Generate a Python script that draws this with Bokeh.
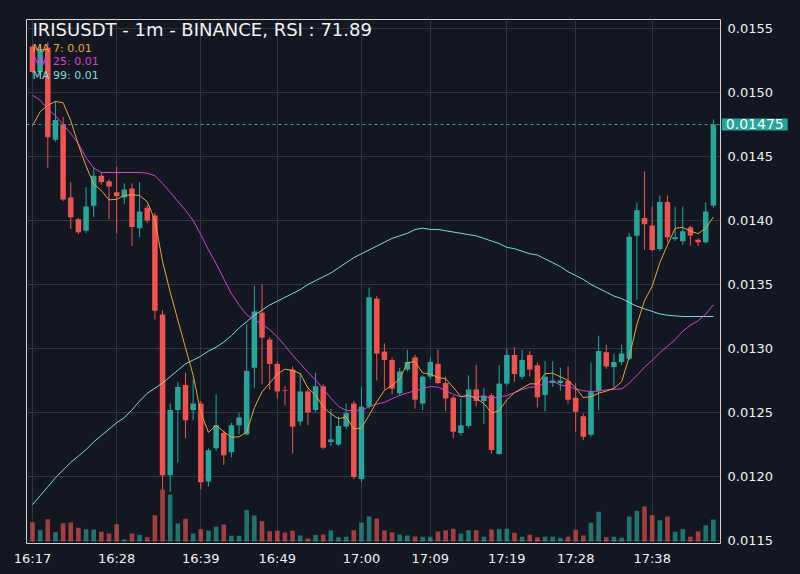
from bokeh.plotting import figure
from bokeh.models import (Range1d, FixedTicker, Span, Label, ColumnDataSource,
                          PrintfTickFormatter)
from bokeh.embed import file_html
from bokeh.resources import INLINE

# ---------------- data ----------------
title_text = "IRISUSDT - 1m - BINANCE, RSI : 71.89"
tick_positions = [0, 11, 22, 32, 43, 52, 62, 71, 81]
tick_labels = ["16:17", "16:28", "16:39", "16:49", "17:00", "17:09", "17:19", "17:28", "17:38"]
price_ticks = [0.0115, 0.0120, 0.0125, 0.0130, 0.0135, 0.0140, 0.0145, 0.0150, 0.0155]
last_price = 0.01475

opens = [0.01536, 0.01516, 0.01535, 0.01463, 0.01475, 0.01418, 0.01401, 0.01392, 0.014115, 0.01435,
         0.014306, 0.01422, 0.01418, 0.01425, 0.01394, 0.0141, 0.01404, 0.013266, 0.01201, 0.01252,
         0.012715, 0.01252, 0.01257, 0.01196, 0.01222, 0.01234, 0.01219, 0.0124, 0.01233, 0.01285,
         0.01328, 0.01307, 0.01288, 0.012675, 0.012835, 0.01243, 0.012665, 0.01252, 0.012705, 0.01227,
         0.01225, 0.01239, 0.01257, 0.01198, 0.012546, 0.01339, 0.012976, 0.01291, 0.01265, 0.012835,
         0.01293, 0.01257, 0.01278, 0.01288, 0.01273, 0.012615, 0.01234, 0.012395, 0.01268, 0.01259,
         0.012634, 0.012176, 0.012726, 0.01295, 0.01278, 0.01295, 0.01287, 0.012637, 0.01273, 0.01273,
         0.012746, 0.012615, 0.01247, 0.012326, 0.01267, 0.01297, 0.012855, 0.012895, 0.01292, 0.01388,
         0.01402, 0.01396, 0.013777, 0.014144, 0.013855, 0.013837, 0.013948, 0.01385, 0.01383, 0.014118]
highs = [0.01537, 0.01537, 0.01539, 0.01493, 0.01481, 0.0143, 0.01402, 0.01426, 0.01442, 0.01438,
         0.01432, 0.01442, 0.01429, 0.01429, 0.0143, 0.01412, 0.01406, 0.0133, 0.01257, 0.01274,
         0.01281, 0.01276, 0.01259, 0.01222, 0.01264, 0.01236, 0.01242, 0.0125, 0.01319, 0.01349,
         0.0135, 0.01309, 0.0129, 0.01271, 0.01286, 0.01281, 0.01268, 0.01281, 0.01272, 0.01253,
         0.01247, 0.01257, 0.01259, 0.0127, 0.013476, 0.01341, 0.01304, 0.01293, 0.01285, 0.01299,
         0.01295, 0.01279, 0.01293, 0.01299, 0.01278, 0.01263, 0.01261, 0.01279, 0.01287, 0.01269,
         0.01265, 0.01287, 0.013, 0.01301, 0.01299, 0.01298, 0.01289, 0.0129, 0.0129, 0.01285,
         0.01286, 0.01273, 0.01249, 0.01289, 0.0131, 0.01303, 0.01296, 0.01303, 0.0139, 0.01414,
         0.014385, 0.01411, 0.014196, 0.014196, 0.01411, 0.01411, 0.01396, 0.01386, 0.014143, 0.01479]
lows = [0.01515, 0.01513, 0.01441, 0.014615, 0.01415, 0.013934, 0.013895, 0.0139, 0.014026, 0.01428,
        0.01401, 0.0139, 0.01413, 0.0138, 0.01387, 0.01398, 0.013227, 0.0119, 0.01188, 0.01211,
        0.0123, 0.01244, 0.0119, 0.01192, 0.0122, 0.01209, 0.01215, 0.01233, 0.01232, 0.01269,
        0.01272, 0.01268, 0.01261, 0.012555, 0.01218, 0.012396, 0.0124, 0.0125, 0.01221, 0.01224,
        0.01224, 0.01237, 0.01198, 0.011956, 0.01253, 0.01275, 0.01268, 0.01264, 0.01263, 0.01282,
        0.01253, 0.01252, 0.01276, 0.01272, 0.01251, 0.0123, 0.01232, 0.01238, 0.012547, 0.01241,
        0.01218, 0.01217, 0.01271, 0.01274, 0.01276, 0.01278, 0.01254, 0.01251, 0.0127, 0.01267,
        0.01257, 0.01235, 0.012285, 0.01231, 0.01252, 0.01284, 0.0127, 0.01287, 0.01291, 0.01338,
        0.01377, 0.01376, 0.01376, 0.01383, 0.01384, 0.01381, 0.013804, 0.0138, 0.01382, 0.0141]
closes = [0.01516, 0.01534, 0.01465, 0.014785, 0.014165, 0.014026, 0.013908, 0.01411, 0.01435, 0.0143,
          0.014266, 0.01419, 0.014243, 0.01395, 0.01407, 0.014, 0.013295, 0.01201, 0.01252, 0.0127,
          0.01244, 0.01257, 0.011956, 0.012206, 0.0124, 0.012167, 0.0124, 0.01246, 0.012825, 0.01329,
          0.013085, 0.01288, 0.012665, 0.01267, 0.01239, 0.012665, 0.0125, 0.012705, 0.012225, 0.01229,
          0.012395, 0.012495, 0.011996, 0.012546, 0.0134, 0.01296, 0.01291, 0.012686, 0.01282, 0.012895,
          0.0126, 0.01278, 0.012895, 0.01273, 0.01261, 0.01235, 0.0124, 0.01268, 0.01259, 0.01263,
          0.012207, 0.012726, 0.01295, 0.0128, 0.01291, 0.012835, 0.01262, 0.01278, 0.01275, 0.01275,
          0.0126, 0.012505, 0.01231, 0.012665, 0.01298, 0.01286, 0.012895, 0.01296, 0.013874, 0.01408,
          0.01397, 0.01377, 0.014144, 0.01387, 0.01387, 0.013916, 0.013883, 0.01383, 0.01407, 0.01475]
volumes = [193, 113, 223, 93, 183, 190, 137, 123, 120, 97,
           80, 173, 20, 80, 67, 43, 263, 520, 470, 180,
           227, 80, 123, 110, 147, 170, 57, 57, 313, 260,
           203, 103, 107, 90, 107, 60, 30, 67, 70, 110,
           43, 47, 113, 190, 250, 230, 110, 93, 70, 60,
           50, 47, 47, 100, 113, 127, 80, 113, 113, 47,
           120, 123, 127, 87, 47, 67, 43, 47, 47, 37,
           47, 117, 60, 187, 297, 43, 47, 40, 250, 307,
           350, 263, 213, 250, 97, 123, 47, 100, 163, 220]
ma7 = [0.01474, 0.01485, 0.0149, 0.01493, 0.01492, 0.01478, 0.01459, 0.014426, 0.014284, 0.014234,
       0.014161, 0.014166, 0.014196, 0.014201, 0.014196, 0.014146, 0.014003, 0.01368, 0.013441, 0.013221,
       0.013006, 0.012791, 0.0125, 0.012344, 0.0124, 0.01235, 0.012307, 0.01231, 0.012347, 0.012537,
       0.012661, 0.01273, 0.0128, 0.012839, 0.012829, 0.012804, 0.012691, 0.012637, 0.012543, 0.01249,
       0.012451, 0.012466, 0.012371, 0.012379, 0.012479, 0.012584, 0.012673, 0.012714, 0.012761, 0.01289,
       0.012897, 0.012809, 0.0128, 0.012774, 0.012763, 0.012696, 0.012624, 0.012636, 0.012609, 0.01257,
       0.012496, 0.012513, 0.012599, 0.012656, 0.012689, 0.012724, 0.012723, 0.012804, 0.012807, 0.012779,
       0.01275, 0.012693, 0.012617, 0.012623, 0.012651, 0.012667, 0.012689, 0.01274, 0.012934, 0.013187,
       0.013374, 0.013487, 0.01367, 0.013809, 0.013939, 0.013946, 0.013917, 0.013897, 0.01394, 0.014027]
ma25 = [0.01498, 0.01494, 0.01487, 0.01482, 0.01475, 0.01468, 0.0146, 0.01449, 0.01441, 0.014375,
        0.014375, 0.014375, 0.014375, 0.014375, 0.014375, 0.01437, 0.01435, 0.01429, 0.01422, 0.01415,
        0.01408, 0.014, 0.01389, 0.01377, 0.013665, 0.013545, 0.013428, 0.01334, 0.013262, 0.013227,
        0.013189, 0.013148, 0.01309, 0.013023, 0.012946, 0.012882, 0.012814, 0.012753, 0.012684, 0.012612,
        0.012548, 0.012516, 0.012516, 0.012517, 0.012545, 0.012566, 0.012579, 0.012608, 0.012633, 0.012653,
        0.01267, 0.012685, 0.012703, 0.012699, 0.012672, 0.012642, 0.012623, 0.012624, 0.012621, 0.01263,
        0.012612, 0.012622, 0.012632, 0.012655, 0.01268, 0.012697, 0.012702, 0.012734, 0.012742, 0.012716,
        0.012701, 0.012685, 0.01267, 0.012664, 0.012667, 0.012677, 0.012682, 0.012684, 0.01273, 0.012789,
        0.012854, 0.012908, 0.012967, 0.013018, 0.013068, 0.013136, 0.013182, 0.013217, 0.013268, 0.013342]
ma99 = [0.01178, 0.01185, 0.01192, 0.01199, 0.01205, 0.01211, 0.01216, 0.01221, 0.01227, 0.01232,
        0.01237, 0.01242, 0.01246, 0.01252, 0.01259, 0.01265, 0.01269, 0.01273, 0.01278, 0.01283,
        0.01288, 0.01291, 0.01294, 0.01298, 0.01301, 0.01305, 0.0131, 0.01316, 0.01321, 0.01326,
        0.0133, 0.01334, 0.01337, 0.0134, 0.01343, 0.01346, 0.0135, 0.01353, 0.01356, 0.01359,
        0.01363, 0.01367, 0.01371, 0.01374, 0.01377, 0.0138, 0.01383, 0.01386, 0.01388, 0.0139,
        0.01393, 0.01394, 0.01393, 0.01393, 0.01392, 0.01391, 0.0139, 0.01389, 0.01388, 0.01386,
        0.01384, 0.01382, 0.01379, 0.01378, 0.01376, 0.01374, 0.01373, 0.0137, 0.01367, 0.01364,
        0.0136, 0.01357, 0.01354, 0.0135, 0.01347, 0.01344, 0.01341, 0.01339, 0.01336, 0.01333,
        0.01331, 0.01329, 0.01327, 0.01326, 0.013255, 0.01325, 0.01325, 0.01325, 0.01325, 0.01325]

# ---------------- styling ----------------
BG = "#131722"
UP = "#26a69a"
DOWN = "#ef5350"
C_MA7 = "#e8a33c"
C_MA25 = "#d63fd6"
C_MA99 = "#7fdada"
FONT = "DejaVu Sans"

n = len(closes)
xs = list(range(n))
colors = [UP if c >= o else DOWN for o, c in zip(opens, closes)]
src = ColumnDataSource(dict(
    x=xs, o=opens, h=highs, l=lows, c=closes,
    top=[max(o, c) for o, c in zip(opens, closes)],
    bot=[min(o, c) for o, c in zip(opens, closes)],
    color=colors, vol=volumes))

p = figure(width=800, height=574, output_backend="svg", toolbar_location=None,
           x_range=Range1d(-0.784, 89.93), y_range=Range1d(0.0114766, 0.0155703),
           y_axis_location="right",
           min_border_left=26, min_border_right=80, min_border_top=19, min_border_bottom=31,
           background_fill_color=BG, border_fill_color=BG,
           outline_line_color="#d6d6d6", outline_line_width=1)

p.extra_y_ranges = {"vol": Range1d(-20, 5220)}

# volume
p.vbar(x="x", top="vol", bottom=0, width=0.6, y_range_name="vol", source=src,
       fill_color="color", fill_alpha=0.66, line_color=None)
# wicks + bodies
p.segment(x0="x", y0="l", x1="x", y1="h", line_color="color", line_width=1, source=src)
p.vbar(x="x", top="top", bottom="bot", width=0.72, fill_color="color", line_color=None, source=src)

# moving averages
p.line(xs, ma99, line_color=C_MA99, line_width=1)
p.line(xs, ma25, line_color=C_MA25, line_width=1)
p.line(xs, ma7, line_color=C_MA7, line_width=1)

# last price line
p.add_layout(Span(location=last_price, dimension="width", line_color=UP,
                  line_dash="3 3", line_width=1))

# axes
p.yaxis.ticker = FixedTicker(ticks=price_ticks)
p.yaxis.formatter = PrintfTickFormatter(format="%.4f")
p.xaxis.ticker = FixedTicker(ticks=tick_positions)
p.xaxis.major_label_overrides = {t: s for t, s in zip(tick_positions, tick_labels)}
for ax in (p.xaxis[0], p.yaxis[0]):
    ax.axis_line_color = None
    ax.major_tick_line_color = None
    ax.minor_tick_line_color = None
    ax.major_tick_out = 0
    ax.major_tick_in = 0
    ax.major_label_text_color = "#f0f0f0"
    ax.major_label_text_font = FONT
    ax.major_label_text_font_size = "13px"
p.yaxis.major_label_standoff = 7
p.xaxis.major_label_standoff = 7

p.xgrid.grid_line_color = "#30343f"
p.ygrid.grid_line_color = "#30343f"

# texts
p.add_layout(Label(x=0, y=0.0154925, text=title_text, text_color="#f2f2f2",
                   text_font=FONT, text_font_size="18px", text_baseline="alphabetic",
                   text_align="left"))
p.add_layout(Label(x=0, y=0.015347, text="MA 7: 0.01", text_color=C_MA7,
                   text_font=FONT, text_font_size="11px", text_baseline="alphabetic"))
p.add_layout(Label(x=0, y=0.015242, text="MA 25: 0.01", text_color=C_MA25,
                   text_font=FONT, text_font_size="11px", text_baseline="alphabetic"))
p.add_layout(Label(x=0, y=0.015133, text="MA 99: 0.01", text_color=C_MA99,
                   text_font=FONT, text_font_size="11px", text_baseline="alphabetic"))
# price tag sits outside the frame: put it in a side panel so it is not clipped
p.add_layout(Label(x=90.1, y=last_price, text="%.5f" % last_price, text_color="#ffffff",
                   text_font=FONT, text_font_size="14px", text_baseline="middle",
                   text_align="left", background_fill_color=UP,
                   padding=dict(left=4, right=4, top=1, bottom=1)), "above")

html = file_html(p, INLINE, title="IRISUSDT")
html = html.replace("<head>", "<head><style>body{background:#131722;}</style>", 1)
open("out.html", "w").write(html)
